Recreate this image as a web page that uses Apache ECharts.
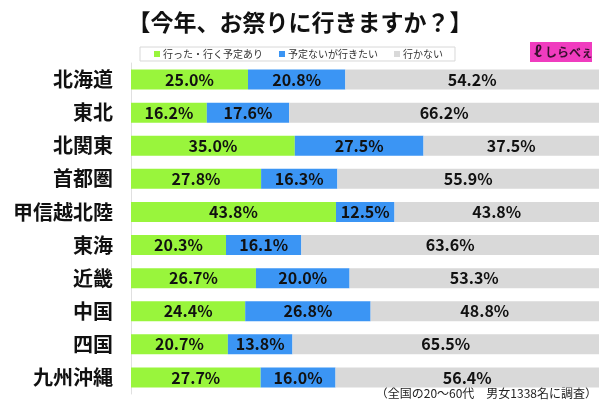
<!DOCTYPE html>
<html>
<head>
<meta charset="utf-8">
<script src="https://cdn.jsdelivr.net/npm/echarts@6/dist/echarts.min.js"></script>
<style>
html,body{margin:0;padding:0;background:#fff;}
#chart{width:600px;height:400px;}
</style>
</head>
<body>
<div id="chart"></div>
<script>
// 地域
var regions = ['北海道', '東北', '北関東', '首都圏', '甲信越北陸', '東海', '近畿', '中国', '四国', '九州沖縄'];
// 行った・行く予定あり
var goValues = [25.0, 16.2, 35.0, 27.8, 43.8, 20.3, 26.7, 24.4, 20.7, 27.7];
// 予定ないが行きたい
var wantValues = [20.8, 17.6, 27.5, 16.3, 12.5, 16.1, 20.0, 26.8, 13.8, 16.0];
// 行かない
var noValues = [54.2, 66.2, 37.5, 55.9, 43.8, 63.6, 53.3, 48.8, 65.5, 56.4];
var seriesNames = ['行った・行く予定あり', '予定ないが行きたい', '行かない'];

var font = '"Noto Sans CJK JP", sans-serif';
var myChart = echarts.init(document.getElementById('chart'));

function makeSeries(name, data, color) {
	return {
		name: name,
		type: 'bar',
		stack: 'total',
		barWidth: 20,
		data: data,
		itemStyle: { color: color },
		label: {
			show: true,
			position: 'inside',
			color: '#111',
			fontFamily: font,
			fontWeight: 'bold',
			fontSize: 16,
			formatter: function (p) { return p.value.toFixed(1) + '%'; }
		}
	};
}

myChart.setOption({
	animation: false,
	title: {
		text: '【今年、お祭りに行きますか？】',
		left: 'center',
		top: 6,
		textStyle: { fontFamily: font, fontWeight: 'bold', fontSize: 23, color: '#111' }
	},
	legend: {
		top: 47,
		left: 140,
		itemWidth: 6,
		itemHeight: 6,
		itemGap: 16,
		icon: 'rect',
		borderColor: '#d8d8d8',
		borderWidth: 1,
		padding: [2, 12, 2, 14],
		data: seriesNames,
		textStyle: { fontFamily: font, fontSize: 10, color: '#333', padding: [0, 0, 0, -2] }
	},
	grid: { left: 131, right: 1, top: 63, bottom: 6 },
	xAxis: {
		type: 'value',
		min: 0,
		max: 100,
		show: false
	},
	yAxis: {
		type: 'category',
		inverse: true,
		data: regions,
		axisLine: { show: true, lineStyle: { color: '#e0e0e0' } },
		axisTick: { show: false },
		axisLabel: {
			margin: 18,
			fontFamily: font,
			fontWeight: 'bold',
			fontSize: 20,
			color: '#111'
		}
	},
	series: [
		makeSeries(seriesNames[0], goValues, '#99f53c'),
		makeSeries(seriesNames[1], wantValues, '#3b95f4'),
		makeSeries(seriesNames[2], noValues, '#d9d9d9')
	],
	graphic: [
		{
			type: 'group',
			left: 530,
			top: 42,
			children: [
				{ type: 'rect', shape: { x: 0, y: 0, width: 62, height: 20 }, style: { fill: '#f03cbf' } },
				{ type: 'text', style: { x: 4, y: 2, text: 'ℓ', fill: '#3a1030', font: 'bold 15px ' + font } },
				{ type: 'text', style: { x: 15, y: 4, text: 'しらべぇ', fill: '#3a1030', font: 'bold 12px ' + font } }
			]
		},
		{
			type: 'text',
			right: 3,
			bottom: 1,
			style: { text: '（全国の20～60代　男女1338名に調査）', fill: '#222', font: '12px ' + font }
		}
	]
});
</script>
</body>
</html>
